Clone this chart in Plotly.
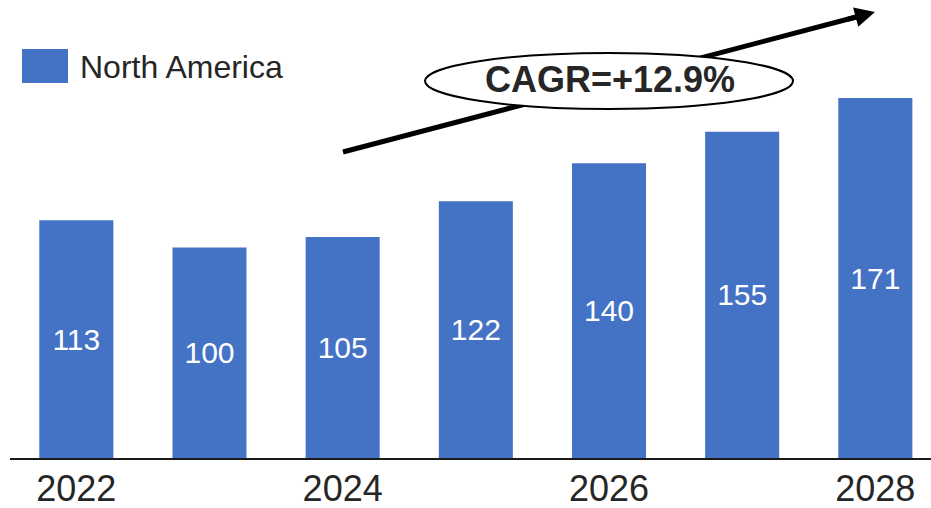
import plotly.graph_objects as go

# Market size by year (North America)
years = [2022, 2023, 2024, 2025, 2026, 2027, 2028]
values = [113, 100, 105, 122, 140, 155, 171]
tick_years = [2022, 2024, 2026, 2028]
tick_labels = ["2022", "2024", "2026", "2028"]
series_name = "North America"
cagr_label = "CAGR=+12.9%"

BLUE = "#4472C4"
TEXT = "#262626"
FONT = "Liberation Sans, Arial, Helvetica, sans-serif"

W, H = 931, 508
ML, MR, MT, MB = 10, 0, 0, 50
PW, PH = W - ML - MR, H - MT - MB


def fx(px):
    """Pixel x -> paper x."""
    return (px - ML) / PW


def fy(py):
    """Pixel y -> paper y."""
    return 1 - (py - MT) / PH


fig = go.Figure(
    go.Bar(
        x=years,
        y=values,
        width=0.556,
        name=series_name,
        marker=dict(color=BLUE, line=dict(width=0)),
        text=[str(v) for v in values],
        textposition="inside",
        insidetextanchor="middle",
        textangle=0,
        textfont=dict(color="white", size=30, family=FONT),
        showlegend=False,
        hoverinfo="x+y",
    )
)

shapes = [
    # growth arrow shaft (drawn under the ellipse)
    dict(type="line", xref="paper", yref="paper",
         x0=fx(343), y0=fy(152), x1=fx(858), y1=fy(16.5),
         line=dict(color="black", width=5), layer="above"),
    # ellipse around the CAGR label
    dict(type="circle", xref="paper", yref="paper",
         x0=fx(425), x1=fx(793), y0=fy(109), y1=fy(53),
         line=dict(color="black", width=2), fillcolor="white", layer="above"),
    # legend swatch
    dict(type="rect", xref="paper", yref="paper",
         x0=fx(22), x1=fx(68), y0=fy(83), y1=fy(49),
         line=dict(width=0), fillcolor=BLUE, layer="above"),
]

annotations = [
    # arrow head
    dict(x=fx(875), y=fy(12), xref="paper", yref="paper", text="",
         showarrow=True, arrowhead=2, arrowsize=0.8, arrowwidth=5,
         arrowcolor="black", ax=-30, ay=8, standoff=0),
    dict(x=fx(609.5), y=fy(80), xref="paper", yref="paper",
         xanchor="center", yanchor="middle",
         text="<b>" + cagr_label + "</b>", showarrow=False,
         font=dict(size=36, color=TEXT, family=FONT)),
    dict(x=fx(78), y=fy(67), xref="paper", yref="paper",
         xanchor="left", yanchor="middle",
         text=series_name, showarrow=False,
         font=dict(size=32, color=TEXT, family=FONT)),
]

fig.update_layout(
    width=W, height=H,
    margin=dict(l=ML, r=MR, t=MT, b=MB, pad=0, autoexpand=False),
    paper_bgcolor="white", plot_bgcolor="white",
    font=dict(family=FONT, color=TEXT),
    shapes=shapes,
    annotations=annotations,
    xaxis=dict(
        range=[2021.502, 2028.418],
        tickvals=tick_years, ticktext=tick_labels,
        tickfont=dict(size=36, color=TEXT, family=FONT),
        ticklabelstandoff=-2,
        showline=True, linecolor="#1a1a1a", linewidth=2,
        showgrid=False, zeroline=False, ticks="",
        automargin=False, fixedrange=True,
    ),
    yaxis=dict(
        range=[0, 217.6], visible=False, showgrid=False, zeroline=False,
        automargin=False, fixedrange=True,
    ),
)

fig.write_html("out.html", config={"displayModeBar": False})
